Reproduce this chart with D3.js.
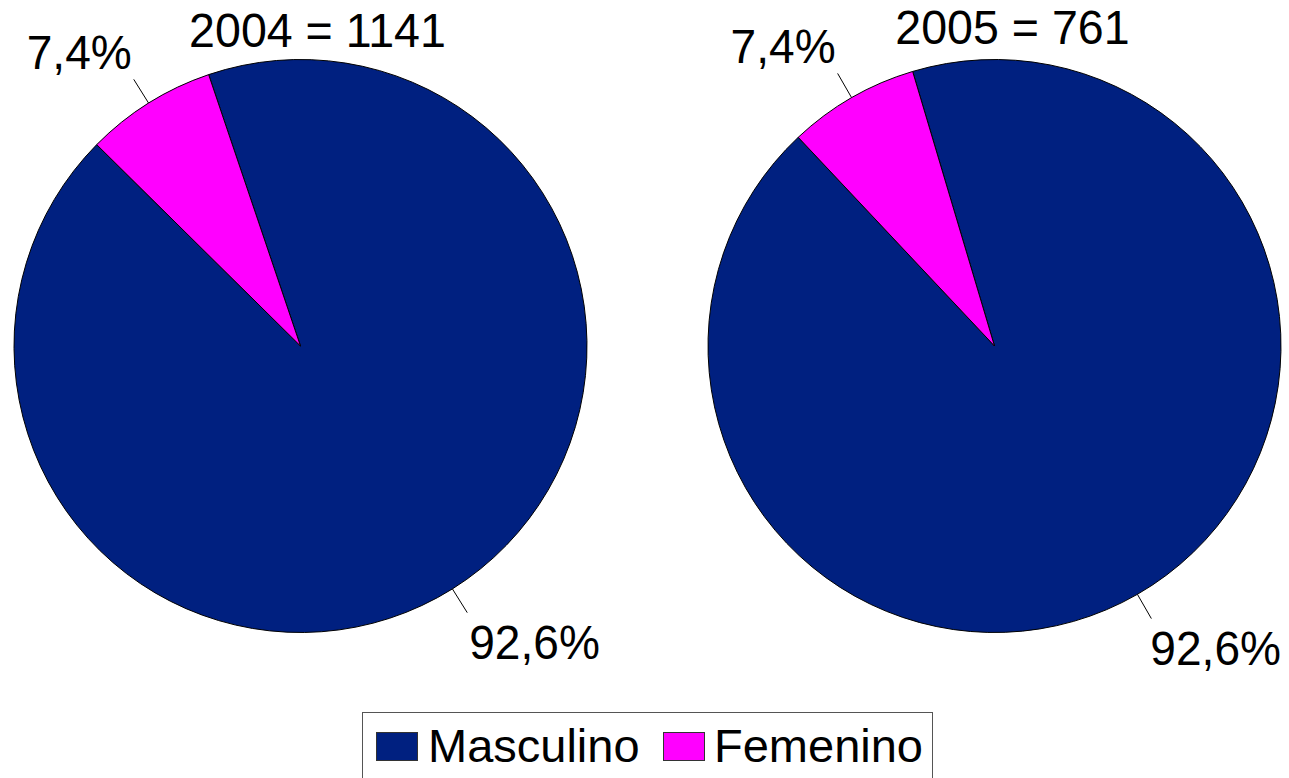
<!DOCTYPE html>
<html>
<head>
<meta charset="utf-8">
<script src="https://cdn.jsdelivr.net/npm/d3@7"></script>
<style>
  html, body { margin: 0; padding: 0; background: #fff; }
  svg { display: block; font-family: "Liberation Sans", Arial, sans-serif; }
</style>
</head>
<body>
<svg id="chart" width="1289" height="778"></svg>
<script>
// ---- data ----
const categories = ["Masculino", "Femenino"];
const years = ["2004", "2005"];
const totals = [1141, 761];
const values2004 = [92.6, 7.4];
const values2005 = [92.6, 7.4];
const labels2004 = ["92,6%", "7,4%"];
const labels2005 = ["92,6%", "7,4%"];
const colors = ["#002080", "#FF00FF"];

// ---- layout ----
const W = 1289;
const svg = d3.select("#chart");
const R = 286.5;
const pies = [
  { year: years[0], total: totals[0], values: values2004, labels: labels2004, cx: 300.5, cy: 346, start: -18.7, titleX: 317.5, titleY: 47 },
  { year: years[1], total: totals[1], values: values2005, labels: labels2005, cx: 994.5, cy: 346, start: -16.6, titleX: 1012.5, titleY: 44 }
];

const color = d3.scaleOrdinal().domain(categories).range(colors);
const arc = d3.arc().innerRadius(0).outerRadius(R);
const rad = d => d * Math.PI / 180;
const FS = 48.5;

// fit text to a width slightly narrower than the natural width (reference font is narrower)
function fit(sel, ratio) {
  const w = sel.node().getComputedTextLength() * ratio;
  sel.attr("textLength", w).attr("lengthAdjust", "spacingAndGlyphs");
  return w;
}

pies.forEach(p => {
  const data = categories.map((c, i) => ({ cat: c, value: p.values[i], label: p.labels[i] }));
  const pie = d3.pie().sort(null).value(d => d.value)
    .startAngle(rad(p.start)).endAngle(rad(p.start) + 2 * Math.PI);
  const arcs = pie(data);
  const g = svg.append("g").attr("transform", `translate(${p.cx},${p.cy})`);

  g.selectAll("path.slice").data(arcs).join("path")
    .attr("class", "slice")
    .attr("d", arc)
    .attr("fill", d => color(d.data.cat))
    .attr("stroke", "#000")
    .attr("stroke-width", 1);

  // leader lines and labels
  arcs.forEach(a => {
    const m = (a.startAngle + a.endAngle) / 2;
    const r0 = R, r1 = R + 28;
    const x0 = r0 * Math.sin(m), y0 = -r0 * Math.cos(m);
    const x1 = r1 * Math.sin(m), y1 = -r1 * Math.cos(m);
    g.append("line")
      .attr("x1", x0).attr("y1", y0).attr("x2", x1).attr("y2", y1)
      .attr("stroke", "#000").attr("stroke-width", 1);
    const isTop = Math.cos(m) > 0;
    const left = Math.sin(m) < 0;
    const t = g.append("text")
      .attr("x", x1 + (left ? -2 : 2))
      .attr("y", isTop ? y1 - 10 : y1 + 46)
      .attr("text-anchor", left ? "end" : "start")
      .attr("font-size", FS)
      .attr("fill", "#000")
      .text(a.data.label);
    const w = fit(t, 0.95);
    if (!left) {
      // keep label inside the page
      const maxX = W - 8 - p.cx - w;
      if (x1 + 2 > maxX) t.attr("x", maxX);
    }
  });

  const tt = svg.append("text")
    .attr("x", p.titleX).attr("y", p.titleY)
    .attr("text-anchor", "middle")
    .attr("font-size", FS)
    .attr("fill", "#000")
    .text(`${p.year} = ${p.total}`);
  fit(tt, 0.96);
});

// ---- legend ----
const legend = svg.append("g");
legend.append("rect")
  .attr("x", 362.5).attr("y", 712.5).attr("width", 570).attr("height", 80)
  .attr("fill", "#fff").attr("stroke", "#555").attr("stroke-width", 1);
const legendItems = [
  { cat: categories[0], sx: 376, tx: 428 },
  { cat: categories[1], sx: 663, tx: 714 }
];
legendItems.forEach(it => {
  legend.append("rect")
    .attr("x", it.sx + 0.5).attr("y", 732.5).attr("width", 41).attr("height", 28)
    .attr("fill", color(it.cat)).attr("stroke", "#333").attr("stroke-width", 1);
  legend.append("text")
    .attr("x", it.tx).attr("y", 762)
    .attr("font-size", 47)
    .attr("fill", "#000")
    .text(it.cat);
});
</script>
</body>
</html>
